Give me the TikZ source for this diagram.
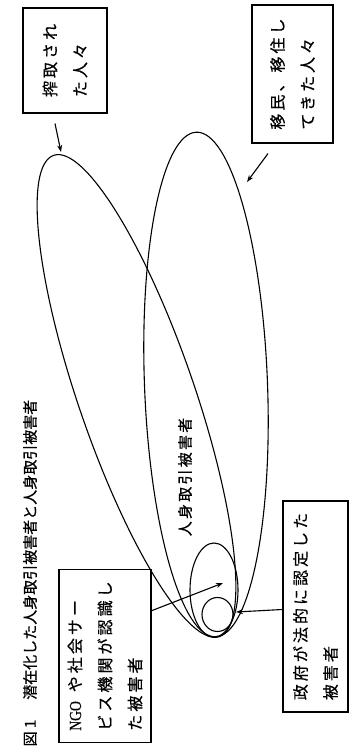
\documentclass[tikz,border=0pt]{standalone}
\usepackage{fontspec}
\usetikzlibrary{arrows.meta,calc}
\newfontfamily\jpfont[FakeBold=0.5]{Noto Sans CJK JP}
\newfontfamily\jpboxfont[LetterSpace=19,FakeBold=0.5]{Noto Sans CJK JP}
\newfontfamily\jplabelfont[LetterSpace=15,FakeBold=0.5]{Noto Sans CJK JP}
\newfontfamily\latinserif[FakeBold=0.5]{Liberation Serif}
\begin{document}
\begin{tikzpicture}[x=1pt,y=1pt,line width=1.1pt,
  box/.style={draw, rotate=90, align=left, inner sep=0pt,
    font=\jpboxfont\fontsize{16pt}{30pt}\selectfont},
  titletext/.style={rotate=90, inner sep=0pt, font=\jpfont\fontsize{15pt}{18pt}\selectfont},
  labeltext/.style={rotate=90, inner sep=0pt, font=\jplabelfont\fontsize{15pt}{18pt}\selectfont},
  arr/.style={-{Stealth[length=7pt,width=5pt]}, line width=1.1pt},
  oval/.style={draw, line width=1.1pt}]
\useasboundingbox[fill=white] (0,0) rectangle (350,750);

% title
\node[titletext, anchor=west] (title) at (30,3)
  {図 1\hspace{20pt}潜在化した人身取引被害者と人身取引被害者};

% ellipses
\draw[oval, rotate around={19:(136.5,354)}] (136.5,354) ellipse [x radius=58pt, y radius=254.5pt];
\draw[oval, rotate around={2.2:(206,365.5)}] (206,365.5) ellipse [x radius=61.5pt, y radius=252.5pt];
\draw[oval] (214,160) ellipse [x radius=24pt, y radius=47pt];
\draw[oval] (217.5,135.5) ellipse [x radius=15.5pt, y radius=17pt];

% label inside
\node[labeltext] (victims) at (185,273) {人身取引被害者};

% boxes
\node[box, minimum width=105pt, minimum height=84pt] (exploited) at (65,689.5)
  {搾取され\\た人々};
\node[box, minimum width=138pt, minimum height=81pt] (migrant) at (292.5,676)
  {移民、移住し\\てきた人々};
\node[box, minimum width=173pt, minimum height=92pt] (ngo) at (105,94)
  {\scalebox{0.8}[1]{\latinserif\fontsize{17pt}{30pt}\selectfont NGO}\hspace{9pt}や社会サー\\ビス機関が認識し\\た被害者};
\node[box, minimum width=211pt, minimum height=65pt] (gov) at (315.5,143.5)
  {政府が法的に認定した\\被害者};

% arrow tips
\coordinate (exploitedtip) at (61,598);
\coordinate (migranttip) at (247,568);
\coordinate (ngotip) at (223,167);
\coordinate (govtip) at (236,138);

% arrows
\draw[arr] ($(exploited.west)+(-10,-10)$) -- (exploitedtip);
\draw[arr] ($(migrant.west)+(-24.5,-10)$) -- (migranttip);
\draw[arr] ($(ngo.south)!0.52!(ngo.south east)$) -- (ngotip);
\draw[arr] ($(gov.north)+(0,-3)$) -- (govtip);
\end{tikzpicture}
\end{document}
